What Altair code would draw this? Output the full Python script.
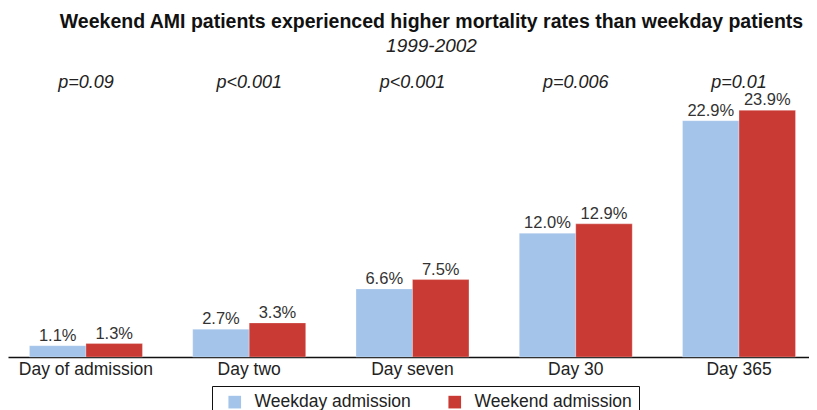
import altair as alt
import pandas as pd

categories = ["Day of admission", "Day two", "Day seven", "Day 30", "Day 365"]
weekday = [1.1, 2.7, 6.6, 12.0, 22.9]
weekend = [1.3, 3.3, 7.5, 12.9, 23.9]
p_values = ["p=0.09", "p<0.001", "p<0.001", "p=0.006", "p=0.01"]
series = ["Weekday admission", "Weekend admission"]
colors = ["#A4C4EA", "#C93A34"]

rows = []
for c, a, b in zip(categories, weekday, weekend):
    rows.append({"cat": c, "series": series[0], "value": a, "label": f"{a:.1f}%"})
    rows.append({"cat": c, "series": series[1], "value": b, "label": f"{b:.1f}%"})
df = pd.DataFrame(rows)
pdf = pd.DataFrame({"cat": categories, "p": p_values})

FONT = "Liberation Sans"

x = alt.X("cat:N", sort=categories, title=None,
          scale=alt.Scale(paddingInner=0.308, paddingOuter=0.107, align=0.614),
          axis=alt.Axis(labelAngle=0, labelFontSize=17.5, labelColor="#222", labelFont=FONT,
                        labelPadding=3, ticks=False, domainColor="#111", domainWidth=1.5))
y = alt.Y("value:Q", scale=alt.Scale(domain=[0, 28], nice=False), axis=None)

bars = alt.Chart(df).mark_bar(stroke="#ffffff", strokeOpacity=0.35, strokeWidth=0.8).encode(
    x=x,
    xOffset=alt.XOffset("series:N", sort=series),
    y=y,
    color=alt.Color("series:N", sort=series,
                    scale=alt.Scale(domain=series, range=colors),
                    legend=alt.Legend(title=None, orient="none", direction="horizontal",
                                      legendX=204, legendY=318, symbolType="square",
                                      symbolSize=160, symbolStrokeWidth=0,
                                      labelFontSize=17.5, labelFont=FONT, labelColor="#222",
                                      labelOffset=11, columnPadding=28, padding=7,
                                      symbolOffset=7,
                                      strokeColor="#111", fillColor="#ffffff")),
)

labels = alt.Chart(df).mark_text(baseline="alphabetic", dy=-5, fontSize=16.5, font=FONT,
                                 color="#333").encode(
    x=alt.X("cat:N", sort=categories),
    xOffset=alt.XOffset("series:N", sort=series),
    y=y,
    text="label:N",
)

ptext = alt.Chart(pdf).mark_text(fontSize=18, font=FONT, fontStyle="italic", color="#222").encode(
    x=alt.X("cat:N", sort=categories),
    y=alt.datum(26.5),
    text="p:N",
)

chart = alt.layer(bars, labels, ptext).properties(
    width=801, height=289,
    padding={"left": 0, "right": 0, "top": 60, "bottom": 53},
    autosize=alt.AutoSizeParams(type="none"),
    title=alt.TitleParams(
        text="Weekend AMI patients experienced higher mortality rates than weekday patients",
        subtitle="1999-2002",
        anchor="middle", dx=23, offset=11,
        font=FONT, fontSize=19.5, fontWeight="bold", color="#111",
        subtitleFont=FONT, subtitleFontSize=19, subtitleFontStyle="italic",
        subtitleColor="#222", subtitlePadding=5,
    ),
).configure_view(stroke=None)

chart.save("out.html", embed_options={"renderer": "svg", "actions": False})
